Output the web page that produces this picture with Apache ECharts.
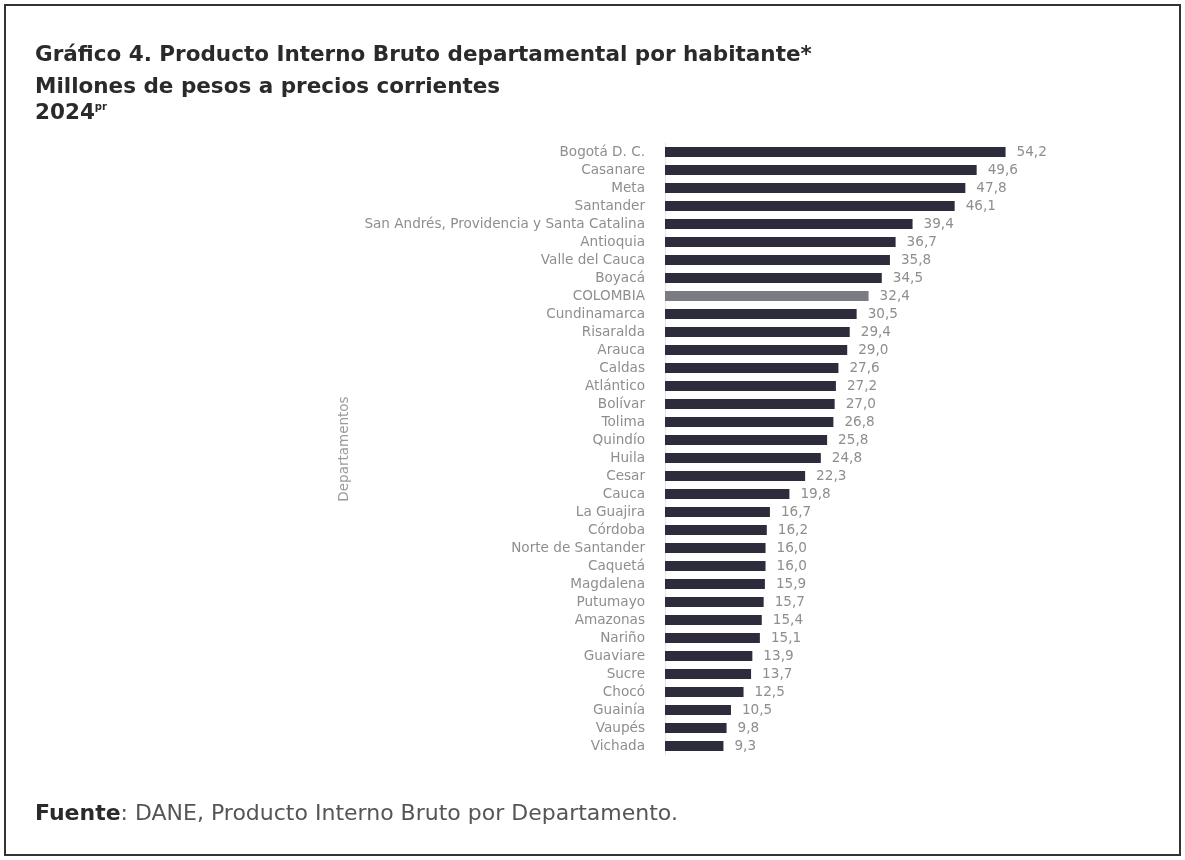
<!DOCTYPE html>
<html>
<head>
<meta charset="utf-8">
<script src="https://cdn.jsdelivr.net/npm/echarts@6/dist/echarts.min.js"></script>
<style>
html,body{margin:0;padding:0;background:#fff;}
#c{width:1185px;height:860px;}
</style>
</head>
<body>
<div id="c"></div>
<script>
const categories = ["Bogotá D. C.","Casanare","Meta","Santander","San Andrés, Providencia y Santa Catalina","Antioquia","Valle del Cauca","Boyacá","COLOMBIA","Cundinamarca","Risaralda","Arauca","Caldas","Atlántico","Bolívar","Tolima","Quindío","Huila","Cesar","Cauca","La Guajira","Córdoba","Norte de Santander","Caquetá","Magdalena","Putumayo","Amazonas","Nariño","Guaviare","Sucre","Chocó","Guainía","Vaupés","Vichada"];
const values = [54.2,49.6,47.8,46.1,39.4,36.7,35.8,34.5,32.4,30.5,29.4,29.0,27.6,27.2,27.0,26.8,25.8,24.8,22.3,19.8,16.7,16.2,16.0,16.0,15.9,15.7,15.4,15.1,13.9,13.7,12.5,10.5,9.8,9.3];
const highlight = "COLOMBIA";

const chart = echarts.init(document.getElementById('c'), null, {renderer:'canvas'});
const barData = values.map((v,i)=>({
  value: v,
  itemStyle: {color: categories[i]===highlight ? '#7b7b83' : '#2c2c3c'}
}));
chart.setOption({
  animation:false,
  backgroundColor:'#fff',
  grid:{left:665,top:143,width:377,height:612},
  xAxis:{type:'value',min:0,max:60,show:false},
  yAxis:{
    type:'category',data:categories,inverse:true,
    axisLine:{show:true,lineStyle:{color:'#e4e4e4',width:1}},
    axisTick:{show:false},
    axisLabel:{interval:0,color:'#8e8e8e',fontSize:13.6,fontFamily:'DejaVu Sans',margin:20},
    name:'Departamentos',nameLocation:'middle',nameGap:314,nameRotate:90,
    nameTextStyle:{color:'#9a9a9a',fontSize:13.5,fontFamily:'DejaVu Sans'}
  },
  series:[{
    type:'bar',data:barData,barWidth:10,
    label:{show:true,position:'right',distance:11,color:'#8e8e8e',fontSize:13.6,fontFamily:'DejaVu Sans',
      formatter:p=>p.value.toFixed(1).replace('.',',')}
  }],
  graphic:[
    {type:'rect',shape:{x:5,y:5,width:1175,height:850},style:{fill:'none',stroke:'#333',lineWidth:2},silent:true},
    {type:'text',left:35,top:44,style:{text:'Gráfico 4. Producto Interno Bruto departamental por habitante*',font:'bold 21.5px "DejaVu Sans"',fill:'#2a2a2a'}},
    {type:'text',left:35,top:76,style:{text:'Millones de pesos a precios corrientes',font:'bold 21.5px "DejaVu Sans"',fill:'#2a2a2a'}},
    {type:'text',left:35,top:102,style:{text:'{a|2024}{b|pr}',rich:{a:{font:'bold 21.5px "DejaVu Sans"',fill:'#2a2a2a'},b:{font:'bold 10px "DejaVu Sans"',fill:'#2a2a2a',verticalAlign:'top',padding:[0,0,12,0]}}}},
    {type:'text',left:35,top:803,style:{text:'{a|Fuente}{b|: DANE, Producto Interno Bruto por Departamento.}',rich:{a:{font:'bold 22px "DejaVu Sans"',fill:'#2a2a2a'},b:{font:'22px "DejaVu Sans"',fill:'#555'}}}}
  ]
});
</script>
</body>
</html>
